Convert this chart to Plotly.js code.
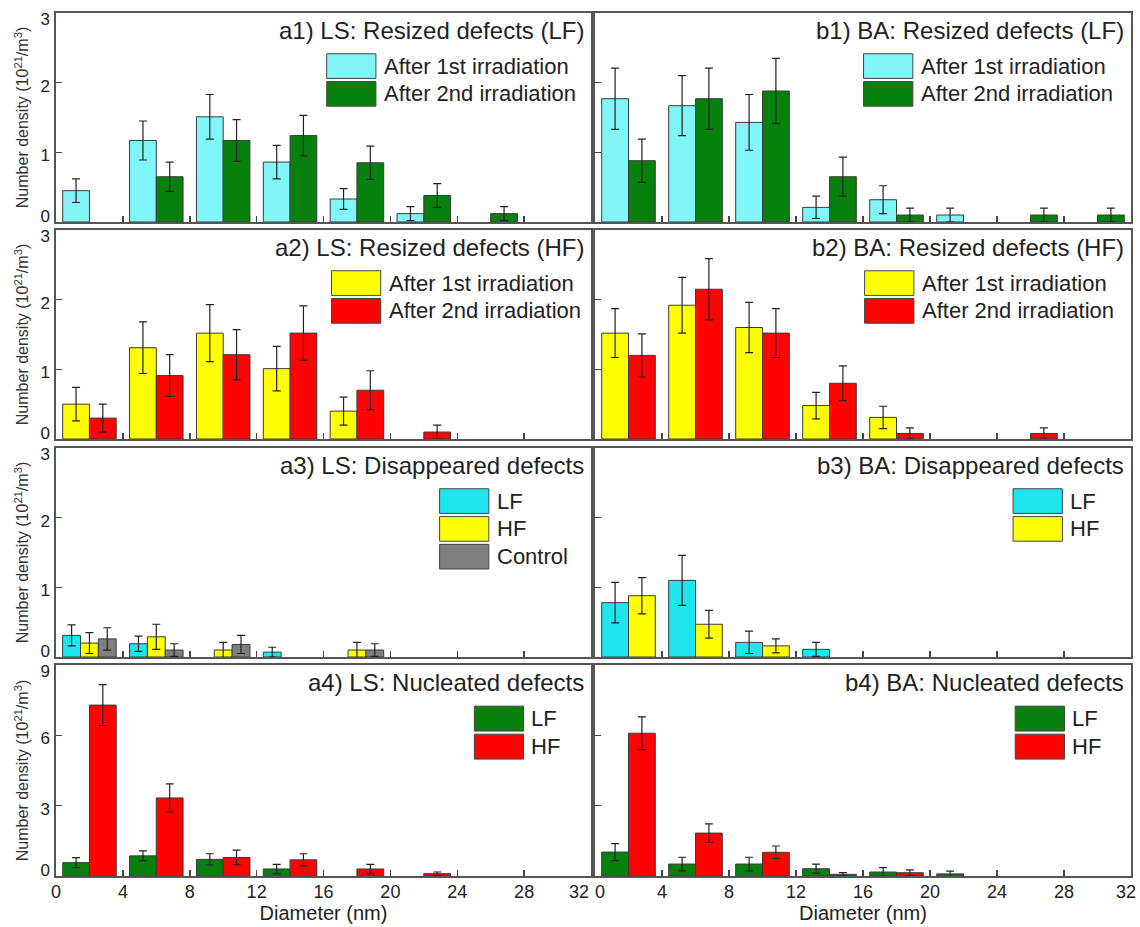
<!DOCTYPE html>
<html>
<head>
<meta charset="utf-8">
<script src="https://cdn.plot.ly/plotly-3.0.1.min.js"></script>
<style>
  html, body { margin: 0; padding: 0; background: #ffffff; }
  #chart { width: 1140px; height: 927px; }
</style>
</head>
<body>
<div id="chart"></div>
<script>
// ---------------- DATA ----------------
// Bin centres (nm) of the 4-nm diameter bins 0-4, 4-8, ..., 28-32
const binCenters = [2, 6, 10, 14, 18, 22, 26, 30];
const xTickVals = [0, 4, 8, 12, 16, 20, 24, 28, 32];
const xTickText = ['0', '4', '8', '12', '16', '20', '24', '28', '32'];
const yTickVals3 = [0, 1, 2, 3];
const yTickText3 = ['0', '1', '2', '3'];
const yTickVals9 = [0, 3, 6, 9];
const yTickText9 = ['0', '3', '6', '9'];

// a1) LS: Resized defects (LF)
const a1First     = [0.45, 1.17, 1.51, 0.86, 0.33, 0.12, null, null];
const a1FirstErr  = [0.17, 0.28, 0.32, 0.24, 0.15, 0.10, null, null];
const a1Second    = [null, 0.65, 1.17, 1.24, 0.85, 0.38, 0.12, null];
const a1SecondErr = [null, 0.21, 0.30, 0.29, 0.24, 0.17, 0.10, null];

// b1) BA: Resized defects (LF)
const b1First     = [1.77, 1.67, 1.43, 0.21, 0.32, 0.10, null, null];
const b1FirstErr  = [0.44, 0.43, 0.40, 0.16, 0.20, 0.10, null, null];
const b1Second    = [0.88, 1.77, 1.88, 0.65, 0.10, null, 0.10, 0.10];
const b1SecondErr = [0.31, 0.44, 0.47, 0.28, 0.10, null, 0.10, 0.10];

// a2) LS: Resized defects (HF)
const a2First     = [0.50, 1.31, 1.52, 1.01, 0.40, null, null, null];
const a2FirstErr  = [0.24, 0.37, 0.41, 0.32, 0.20, null, null, null];
const a2Second    = [0.30, 0.91, 1.21, 1.52, 0.70, 0.10, null, null];
const a2SecondErr = [0.20, 0.30, 0.36, 0.39, 0.28, 0.10, null, null];

// b2) BA: Resized defects (HF)
const b2First     = [1.52, 1.92, 1.60, 0.48, 0.31, null, null, null];
const b2FirstErr  = [0.35, 0.40, 0.36, 0.19, 0.16, null, null, null];
const b2Second    = [1.20, 2.15, 1.52, 0.80, 0.08, null, 0.08, null];
const b2SecondErr = [0.31, 0.44, 0.35, 0.25, 0.08, null, 0.08, null];

// a3) LS: Disappeared defects
const a3LF      = [0.31, 0.19, null, 0.07, null, null, null, null];
const a3LFErr   = [0.15, 0.11, null, 0.07, null, null, null, null];
const a3HF      = [0.20, 0.29, 0.10, null, 0.10, null, null, null];
const a3HFErr   = [0.15, 0.18, 0.11, null, 0.11, null, null, null];
const a3Ctrl    = [0.26, 0.10, 0.18, null, 0.10, null, null, null];
const a3CtrlErr = [0.16, 0.09, 0.13, null, 0.09, null, null, null];

// b3) BA: Disappeared defects
const b3LF    = [0.78, 1.10, 0.21, 0.11, null, null, null, null];
const b3LFErr = [0.29, 0.36, 0.16, 0.10, null, null, null, null];
const b3HF    = [0.88, 0.47, 0.16, null, null, null, null, null];
const b3HFErr = [0.26, 0.20, 0.10, null, null, null, null, null];

// a4) LS: Nucleated defects
const a4LF    = [0.57, 0.86, 0.71, 0.30, null, null, null, null];
const a4LFErr = [0.21, 0.21, 0.24, 0.20, null, null, null, null];
const a4HF    = [7.29, 3.33, 0.79, 0.69, 0.30, 0.10, null, null];
const a4HFErr = [0.87, 0.60, 0.31, 0.26, 0.20, 0.07, null, null];

// b4) BA: Nucleated defects
const b4LF    = [1.02, 0.51, 0.51, 0.31, 0.17, 0.09, null, null];
const b4LFErr = [0.36, 0.29, 0.29, 0.20, 0.19, 0.12, null, null];
const b4HF    = [6.09, 1.83, 1.01, 0.07, 0.14, null, null, null];
const b4HFErr = [0.70, 0.39, 0.27, 0.07, 0.12, null, null, null];

// Text
const panelTitles = [
  'a1) LS: Resized defects (LF)', 'b1) BA: Resized defects (LF)',
  'a2) LS: Resized defects (HF)', 'b2) BA: Resized defects (HF)',
  'a3) LS: Disappeared defects',  'b3) BA: Disappeared defects',
  'a4) LS: Nucleated defects',    'b4) BA: Nucleated defects'
];
const xTitle = 'Diameter (nm)';
const yTitle = 'Number density (10<sup>21</sup>/m<sup>3</sup>)';

// ---------------- STYLE ----------------
const C_LCYAN = '#80f6f8';
const C_GREEN = '#08800e';
const C_YELLOW = '#ffff00';
const C_RED = '#ff0202';
const C_CYAN = '#1fe6ee';
const C_GRAY = '#7f7f7f';
const FONT = 'Liberation Sans, Arial, sans-serif';

const panels = [
  { series: [['After 1st irradiation', a1First, a1FirstErr, C_LCYAN], ['After 2nd irradiation', a1Second, a1SecondErr, C_GREEN]], ymax: 3, legX: 0.506 },
  { series: [['After 1st irradiation', b1First, b1FirstErr, C_LCYAN], ['After 2nd irradiation', b1Second, b1SecondErr, C_GREEN]], ymax: 3, legX: 0.501 },
  { series: [['After 1st irradiation', a2First, a2FirstErr, C_YELLOW], ['After 2nd irradiation', a2Second, a2SecondErr, C_RED]], ymax: 3, legX: 0.515 },
  { series: [['After 1st irradiation', b2First, b2FirstErr, C_YELLOW], ['After 2nd irradiation', b2Second, b2SecondErr, C_RED]], ymax: 3, legX: 0.503 },
  { series: [['LF', a3LF, a3LFErr, C_CYAN], ['HF', a3HF, a3HFErr, C_YELLOW], ['Control', a3Ctrl, a3CtrlErr, C_GRAY]], ymax: 3, legX: 0.717 },
  { series: [['LF', b3LF, b3LFErr, C_CYAN], ['HF', b3HF, b3HFErr, C_YELLOW]], ymax: 3, legX: 0.780 },
  { series: [['LF', a4LF, a4LFErr, C_GREEN], ['HF', a4HF, a4HFErr, C_RED]], ymax: 9, legX: 0.782 },
  { series: [['LF', b4LF, b4LFErr, C_GREEN], ['HF', b4HF, b4HFErr, C_RED]], ymax: 9, legX: 0.784 }
];

const W = 1140, H = 927;
const colPx = [[56, 591], [595, 1131]];
const rowPx = [[13, 222], [230, 439], [448, 657], [665, 876]];
// pixel nudges of individual tick labels (as in the original figure)
const xLabelNudge = [
  (i, n) => (i === n - 1 ? -12 : 0),                  // left column: "32" pulled left
  (i, n) => (i === 0 ? 5 : (i === n - 1 ? -5 : 0))    // right column: "0" right, "32" left
];
const yLabelNudge = (i, n) => (i === 0 ? -6 : (i === n - 1 ? 6 : 3)); // px, positive = down

const xTickFont = { size: 18, color: '#222', family: FONT };
const yTickFont = { size: 17, color: '#222', family: FONT };
const traces = [];
const layout = {
  width: W, height: H,
  margin: { l: 0, r: 0, t: 0, b: 0 },
  paper_bgcolor: '#ffffff', plot_bgcolor: '#ffffff',
  barmode: 'group', bargap: 0.2, bargroupgap: 0,
  showlegend: false,
  font: { family: FONT, color: '#222' },
  shapes: [], annotations: []
};

let extra = 9; // next free axis number for label-only overlay axes

panels.forEach((p, i) => {
  const k = i + 1;
  const col = i % 2, row = Math.floor(i / 2);
  const xs = k === 1 ? 'x' : 'x' + k;
  const ys = k === 1 ? 'y' : 'y' + k;
  const xa = k === 1 ? 'xaxis' : 'xaxis' + k;
  const ya = k === 1 ? 'yaxis' : 'yaxis' + k;
  const bottom = row === 3, left = col === 0;
  const xDom = [colPx[col][0] / W, colPx[col][1] / W];
  const yDom = [1 - rowPx[row][1] / H, 1 - rowPx[row][0] / H];
  const yVals = p.ymax === 9 ? yTickVals9 : yTickVals3;
  const yText = p.ymax === 9 ? yTickText9 : yTickText3;

  layout[xa] = {
    domain: xDom, anchor: ys, range: [0, 32],
    tickmode: 'array', tickvals: xTickVals,
    ticks: 'inside', ticklen: 6, tickwidth: 1.5, tickcolor: '#444',
    showline: true, mirror: true, linecolor: '#555', linewidth: 2,
    showgrid: false, zeroline: false, fixedrange: true, showticklabels: false
  };
  layout[ya] = {
    domain: yDom, anchor: xs, range: [0, p.ymax],
    tickmode: 'array', tickvals: yVals,
    ticks: 'inside', ticklen: 6, tickwidth: 1.5, tickcolor: '#444',
    showline: true, mirror: true, linecolor: '#555', linewidth: 2,
    showgrid: false, zeroline: false, fixedrange: true, showticklabels: false
  };

  // label-only overlay axes (tick labels + axis titles)
  if (bottom) {
    const n = extra++;
    const pxPerUnit = (colPx[col][1] - colPx[col][0]) / 32;
    layout['xaxis' + n] = {
      domain: xDom, anchor: ys, overlaying: xs, side: 'bottom', range: [0, 32],
      tickmode: 'array',
      tickvals: xTickVals.map((v, t) => v + xLabelNudge[col](t, xTickVals.length) / pxPerUnit),
      ticktext: xTickText,
      ticks: '', showline: false, showgrid: false, zeroline: false, fixedrange: true,
      tickfont: xTickFont, ticklabelstandoff: 3,
      title: { text: xTitle, font: { size: 20, color: '#222', family: FONT }, standoff: 2 }
    };
    traces.push({ type: 'scatter', x: [], y: [], xaxis: 'x' + n, yaxis: ys, showlegend: false, hoverinfo: 'skip' });
  }
  if (left) {
    const n = extra++;
    const pxPerUnit = (rowPx[row][1] - rowPx[row][0]) / p.ymax;
    layout['yaxis' + n] = {
      domain: yDom, anchor: xs, overlaying: ys, side: 'left', range: [0, p.ymax],
      tickmode: 'array',
      tickvals: yVals.map((v, t) => v - yLabelNudge(t, yVals.length) / pxPerUnit),
      ticktext: yText,
      ticks: '', showline: false, showgrid: false, zeroline: false, fixedrange: true,
      tickfont: yTickFont, ticklabelstandoff: 5,
      title: { text: yTitle, font: { size: 16, color: '#333', family: FONT }, standoff: 7 }
    };
    traces.push({ type: 'scatter', x: [], y: [], xaxis: xs, yaxis: 'y' + n, showlegend: false, hoverinfo: 'skip' });
  }

  p.series.forEach((s, j) => {
    traces.push({
      type: 'bar', name: s[0], x: binCenters, y: s[1],
      xaxis: xs, yaxis: ys,
      marker: { color: s[3], line: { color: '#3a3a3a', width: 1 } },
      error_y: { type: 'data', array: s[2], visible: true, color: '#222', thickness: 1.2, width: 4 },
      showlegend: false, hoverinfo: 'skip'
    });
    // legend swatch + label
    const top = 1 - (0.195 + j * 0.133);
    const bot = top - 0.118;
    layout.shapes.push({
      type: 'rect', xref: xs + ' domain', yref: ys + ' domain',
      x0: p.legX, x1: p.legX + 0.092, y0: bot, y1: top,
      fillcolor: s[3], line: { color: '#444', width: 1 }
    });
    layout.annotations.push({
      xref: xs + ' domain', yref: ys + ' domain',
      x: p.legX + 0.103, y: (top + bot) / 2, xanchor: 'left', yanchor: 'middle',
      text: s[0], showarrow: false, font: { size: 22, color: '#222', family: FONT }
    });
  });

  layout.annotations.push({
    xref: xs + ' domain', yref: ys + ' domain',
    x: 0.99, y: 1, xanchor: 'right', yanchor: 'top', yshift: -2,
    text: panelTitles[i], showarrow: false, font: { size: 24, color: '#222', family: FONT }
  });
});

Plotly.newPlot('chart', traces, layout, { displayModeBar: false, staticPlot: true });
</script>
</body>
</html>
